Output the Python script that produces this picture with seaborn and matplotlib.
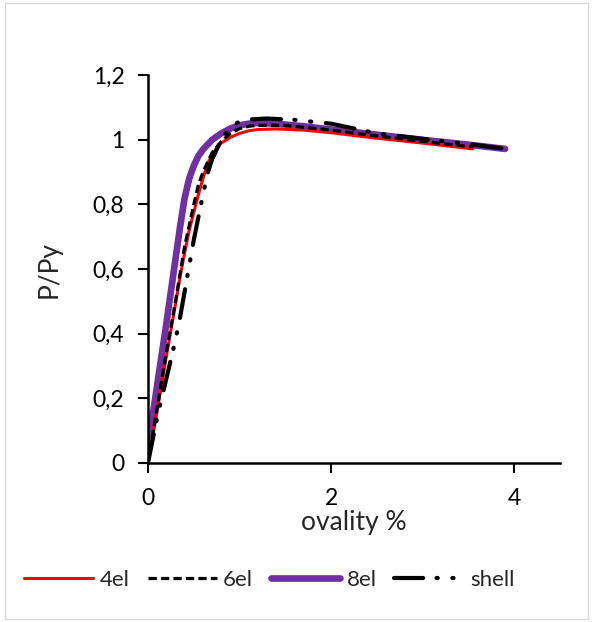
import matplotlib
matplotlib.use("Agg")
import matplotlib.pyplot as plt
import seaborn as sns
import pandas as pd
from matplotlib.patches import Rectangle

# Data
x_4el = [0.0, 0.10, 0.20, 0.30, 0.35, 0.40, 0.45, 0.50, 0.55, 0.60, 0.65, 0.70, 0.80, 0.90, 1.00, 1.10, 1.20, 1.40, 1.70, 2.00, 2.50, 3.00, 3.55]
y_4el = [0.0, 0.16, 0.33, 0.49, 0.575, 0.65, 0.72, 0.775, 0.83, 0.88, 0.925, 0.955, 0.99, 1.008, 1.02, 1.028, 1.032, 1.034, 1.030, 1.022, 1.005, 0.99, 0.972]

x_6el = [0.0, 0.10, 0.20, 0.30, 0.40, 0.50, 0.55, 0.60, 0.70, 0.80, 0.90, 1.00, 1.10, 1.20, 1.50, 2.00, 2.50, 3.00, 3.55]
y_6el = [0.0, 0.17, 0.34, 0.50, 0.67, 0.80, 0.86, 0.90, 0.96, 0.995, 1.02, 1.035, 1.042, 1.045, 1.045, 1.03, 1.012, 0.995, 0.978]

x_8el = [0.0, 0.10, 0.20, 0.30, 0.35, 0.40, 0.45, 0.50, 0.55, 0.60, 0.70, 0.80, 0.90, 1.00, 1.10, 1.20, 1.40, 1.70, 2.00, 2.50, 3.00, 3.50, 3.90]
y_8el = [0.05, 0.24, 0.43, 0.63, 0.73, 0.82, 0.88, 0.92, 0.95, 0.97, 1.00, 1.02, 1.035, 1.045, 1.05, 1.052, 1.05, 1.042, 1.032, 1.016, 1.0, 0.985, 0.972]

x_shell = [0.0, 0.05, 0.10, 0.15, 0.20, 0.25, 0.30, 0.35, 0.40, 0.45, 0.50, 0.55, 0.60, 0.65, 0.70, 0.80, 0.90, 1.00, 1.10, 1.30, 1.60, 2.00, 2.50, 3.00, 3.50, 3.90]
y_shell = [0.0, 0.07, 0.14, 0.20, 0.26, 0.32, 0.38, 0.45, 0.53, 0.61, 0.69, 0.76, 0.83, 0.895, 0.94, 1.0, 1.04, 1.057, 1.063, 1.066, 1.062, 1.05, 1.02, 1.003, 0.987, 0.972]

x_ticks = [0, 2, 4]
y_ticks = [0, 0.2, 0.4, 0.6, 0.8, 1.0, 1.2]
y_ticklabels = ["0", "0,2", "0,4", "0,6", "0,8", "1", "1,2"]

sns.set_theme(style="white")
plt.rcParams['font.family'] = ['Lato', 'DejaVu Sans']

fig = plt.figure(figsize=(5.92, 6.22), dpi=100)
ax = fig.add_axes([0.25, 0.256, 0.696, 0.623])

df4 = pd.DataFrame({"x": x_4el, "y": y_4el})
df6 = pd.DataFrame({"x": x_6el, "y": y_6el})
df8 = pd.DataFrame({"x": x_8el, "y": y_8el})
dfs = pd.DataFrame({"x": x_shell, "y": y_shell})

sns.lineplot(data=df8, x="x", y="y", ax=ax, color="#7030A0", lw=4.8,
             label="8el", sort=False, zorder=2)
sns.lineplot(data=df4, x="x", y="y", ax=ax, color="#FF0000", lw=2.2,
             label="4el", sort=False, zorder=3)
sns.lineplot(data=df6, x="x", y="y", ax=ax, color="black", lw=2.3,
             label="6el", sort=False, zorder=4)
sns.lineplot(data=dfs, x="x", y="y", ax=ax, color="black", lw=3.0,
             label="shell", sort=False, zorder=5)

lines = ax.get_lines()
# order: 8el, 4el, 6el, shell
lines[0].set_solid_capstyle("round")
lines[0].set_solid_joinstyle("round")
lines[2].set_linestyle((0, (2.6, 1.3)))
lines[3].set_linestyle((0, (7, 3.2, 0.3, 3.5, 0.3, 3.5)))
lines[3].set_dash_capstyle("round")

ax.set_xlim(0, 4.5)
ax.set_ylim(0, 1.2)
ax.set_xticks(x_ticks)
ax.set_xticklabels([str(t) for t in x_ticks])
ax.set_yticks(y_ticks)
ax.set_yticklabels(y_ticklabels)
ax.tick_params(axis="both", direction="out", length=7, width=1.5, labelsize=16.5,
               colors="black", left=True, bottom=True)
ax.tick_params(axis="y", pad=10)
ax.tick_params(axis="x", pad=11)
for s in ["top", "right"]:
    ax.spines[s].set_visible(False)
for s in ["left", "bottom"]:
    ax.spines[s].set_color("black")
    ax.spines[s].set_linewidth(1.8)

ax.set_xlabel("ovality %", fontsize=19, labelpad=1)
ax.set_ylabel("P/Py", fontsize=19, labelpad=22)

handles, labels = ax.get_legend_handles_labels()
order = [labels.index(n) for n in ["4el", "6el", "8el", "shell"]]
ax.legend([handles[i] for i in order], [labels[i] for i in order],
          loc="center", bbox_to_anchor=(0.455, 0.068), bbox_transform=fig.transFigure,
          ncol=4, frameon=False, fontsize=16, handlelength=3.1, handletextpad=0.3,
          columnspacing=0.8)

fig.patches.append(Rectangle((0.008, 0.005), 0.985, 0.99, transform=fig.transFigure,
                             fill=False, edgecolor="#D9D9D9", lw=1.0))

fig.savefig("out.png", dpi=100)
